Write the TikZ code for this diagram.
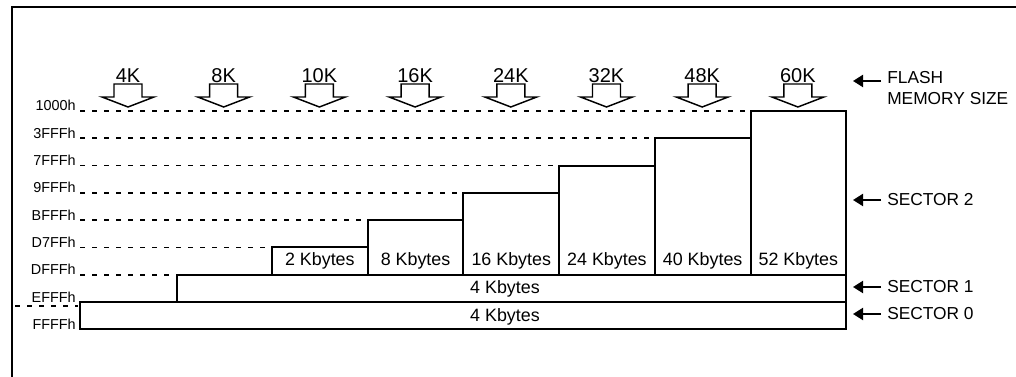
\documentclass[tikz,border=0pt]{standalone}
\usepackage{fontspec}
\setmainfont{Liberation Sans}
\usetikzlibrary{arrows.meta}

\tikzset{
  addr/.style={anchor=base east, inner sep=0pt, font=\fontsize{10.8}{13}\selectfont},
  guide/.style={line width=1.3pt, dash pattern=on 3.75pt off 5.25pt},
  blk/.style={line width=1.5pt},
  kb/.style={anchor=base, inner sep=0pt, font=\fontsize{13.4}{16}\selectfont},
  sizelbl/.style={anchor=base, inner sep=0pt, font=\fontsize{15}{18}\selectfont},
  sect/.style={anchor=west, inner sep=0pt, align=left, font=\fontsize{13}{16}\selectfont},
  pointer/.style={line width=1.6pt, -{Triangle[length=7.5pt,width=9pt]}},
  bigarrow/.style={line width=1.1pt, line join=miter}
}

\begin{document}
\begin{tikzpicture}[x=0.75pt, y=-0.75pt]
  \useasboundingbox (0,0) rectangle (1016,377);
  % Frame
  \draw [line width=2pt] (12,377) -- (12,7) -- (1016,7);
  % Address labels
  \foreach \adr [count=\i from 0] in {1000h,3FFFh,7FFFh,9FFFh,BFFFh,D7FFh,DFFFh,EFFFh,FFFFh}
    \node [addr] (a\i) at (76, 111+27.3*\i) {\adr};
  % Dashed guide lines
  \foreach \i/\xe in {0/750.5,1/654.8,2/559,3/463.4,4/367.7,5/272,6/177}
    \draw [guide] (80, 111+27.3*\i) -- (\xe-3, 111+27.3*\i);
  \draw [guide] (15,306) -- (78,306);
  % Sector 2 columns
  \foreach \txt [count=\k from 0] in {2,8,16,24,40,52} {
    \draw [blk] (272+95.7*\k, 274.8) rectangle (367.7+95.7*\k, 247.5-27.3*\k);
    \node [kb] (c\k) at (319.85+95.7*\k, 266) {\txt\ Kbytes};
  }
  % Sector 1 and sector 0
  \draw [blk] (177,274.8) rectangle (846,302.1);
  \draw [blk] (80,302.1) rectangle (846,329.4);
  \node [kb] (s1) at (505,293.5) {4 Kbytes};
  \node [kb] (s0) at (505,321) {4 Kbytes};
  % Flash size arrows
  \foreach \sz [count=\j from 0] in {4K,8K,10K,16K,24K,32K,48K,60K} {
    \pgfmathsetmacro{\cx}{128+95.7*\j}
    \draw [bigarrow] (\cx-14,97) -- (\cx-14,84) -- (\cx+14,84) -- (\cx+14,97)
      -- (\cx+26,97) -- (\cx,107) -- (\cx-26,97) -- cycle;
    \node [sizelbl] (f\j) at (\cx,83) {\sz};
  }
  % Right-hand labels
  \node [sect] (flash) at (887,88) {FLASH\\MEMORY SIZE};
  \node [sect] (sec2) at (887,200) {SECTOR 2};
  \node [sect] (sec1) at (887,287) {SECTOR 1};
  \node [sect] (sec0) at (887,314) {SECTOR 0};
  \draw [pointer] ([xshift=-4.5pt,yshift=5.25pt]flash.west) -- ++(-28,0);
  \draw [pointer] ([xshift=-4.5pt]sec2.west) -- ++(-28,0);
  \draw [pointer] ([xshift=-4.5pt]sec1.west) -- ++(-28,0);
  \draw [pointer] ([xshift=-4.5pt]sec0.west) -- ++(-28,0);
\end{tikzpicture}
\end{document}
